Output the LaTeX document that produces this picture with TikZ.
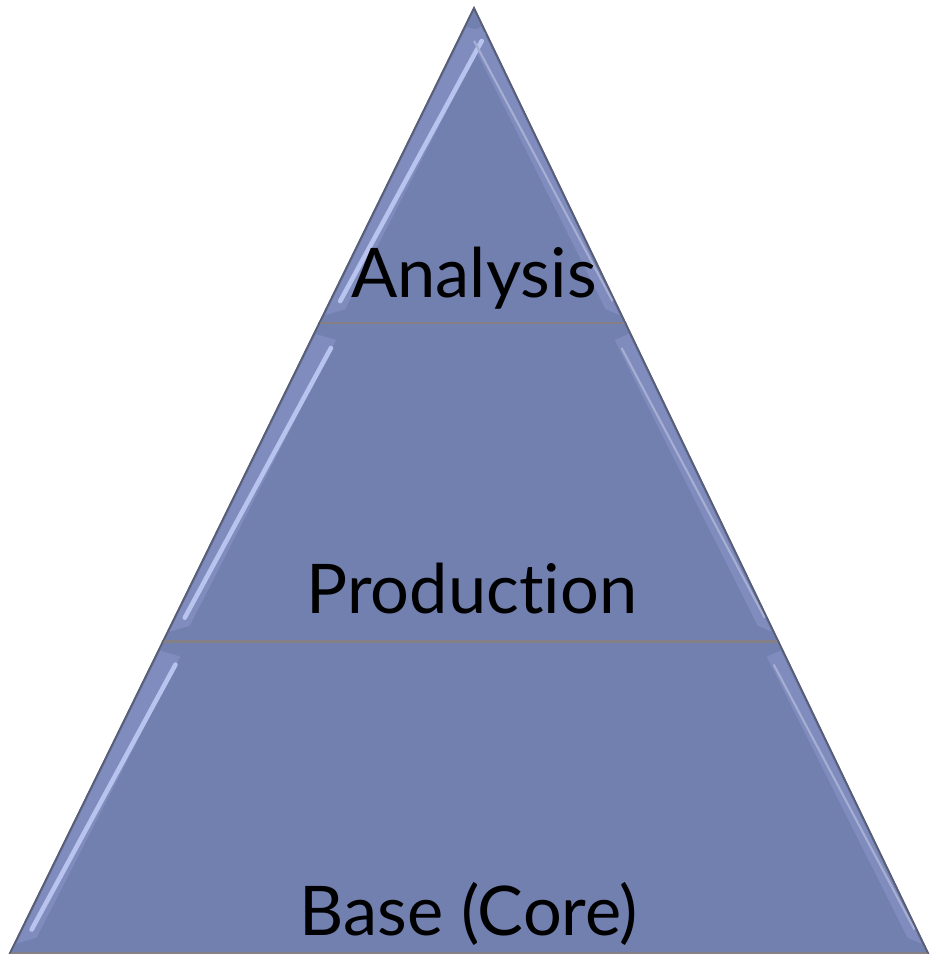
\documentclass[tikz,border=0pt]{standalone}
\usepackage{fontspec}
\setmainfont{Lato}[Ligatures={NoCommon,NoRare}]
\usetikzlibrary{calc}

\definecolor{tierfill}{RGB}{114,128,176}
\definecolor{tierband}{RGB}{128,140,190}
\definecolor{tieredge}{RGB}{88,94,118}
\definecolor{bevellight}{RGB}{184,196,238}
\definecolor{divline}{RGB}{132,128,134}

\tikzset{
  tier/.style={fill=tierfill, draw=tieredge, line width=1pt, line join=miter},
  band/.style={fill=tierband},
  shine/.style={draw=bevellight, line width=2.6pt, line cap=round},
  divider/.style={draw=divline, line width=1.6pt},
  label/.style={anchor=base, font=\fontsize{39}{41}\selectfont, text=black, inner sep=0pt}
}

\begin{document}
\begin{tikzpicture}[x=0.02cm,y=-0.02cm]
    \useasboundingbox (0,0) rectangle (929,959);

    % outline of the pyramid
    \coordinate (A) at (474,8);
    \coordinate (L) at (10,953);
    \coordinate (R) at (928,953);
    \coordinate (l1) at ($(A)!0.3333!(L)$);
    \coordinate (r1) at ($(A)!0.3333!(R)$);
    \coordinate (l2) at ($(A)!0.67!(L)$);
    \coordinate (r2) at ($(A)!0.67!(R)$);

    % tiers
    \draw[tier] (A) -- (l1) -- (r1) -- cycle;
    \draw[tier] (l1) -- (l2) -- (r2) -- (r1) -- cycle;
    \draw[tier] (l2) -- (L) -- (R) -- (r2) -- cycle;

    % bevels along the slanted edges
    \foreach \ta/\tb in {0.02/0.325, 0.345/0.66, 0.68/0.99} {
        \fill[band] ($(A)!\ta!(L)+(2,0)$) -- ($(A)!\tb!(L)+(2,0)$) -- ($(A)!\tb!(L)+(22,-6)$) -- ($(A)!\ta!(L)+(22,6)$) -- cycle;
        \fill[band] ($(A)!\ta!(R)+(-2,0)$) -- ($(A)!\tb!(R)+(-2,0)$) -- ($(A)!\tb!(R)+(-16,-6)$) -- ($(A)!\ta!(R)+(-16,6)$) -- cycle;
        \draw[shine] ($(A)!\ta!(L)+(17,14)$) -- ($(A)!\tb!(L)+(17,-14)$);
        \draw[draw=tierband!70!white, line width=1.2pt] ($(A)!\ta!(R)+(-9,14)$) -- ($(A)!\tb!(R)+(-9,-14)$);
    }

    % dividing lines
    \draw[divider] (l1) -- (r1);
    \draw[divider] (l2) -- (r2);
    \draw[divider] (L) -- (R);
    \draw[tieredge, line width=0.8pt] (L) -- (A) -- (R);

    % labels
    \node[label] (analysis) at (474,297) {Analysis};
    \node[label] (production) at (472,613) {Production};
    \node[label] (base) at (469,935) {Base (Core)};

\end{tikzpicture}
\end{document}
